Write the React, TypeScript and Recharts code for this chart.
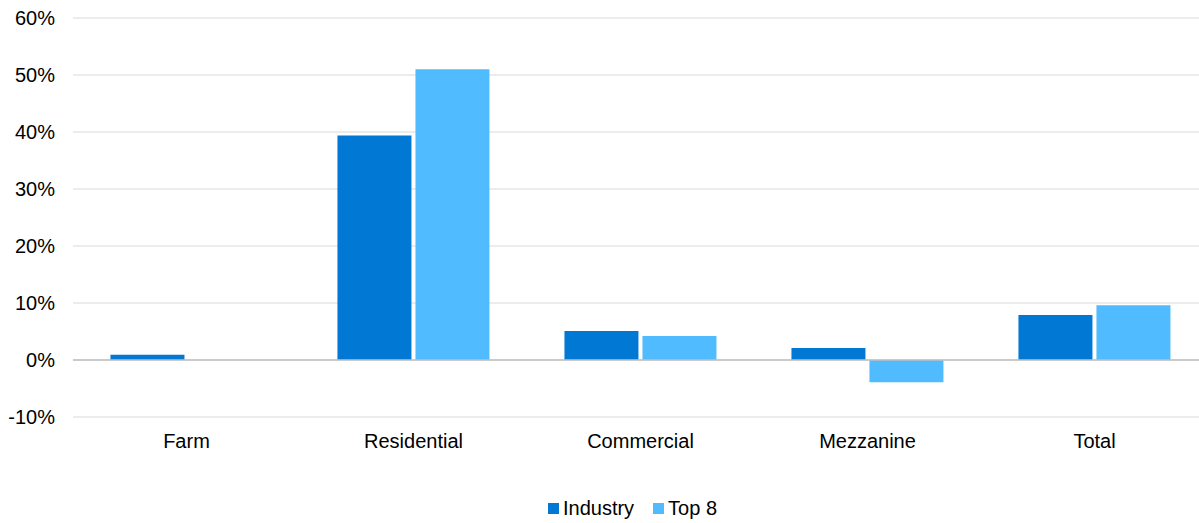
import {
  BarChart,
  Bar,
  XAxis,
  YAxis,
  CartesianGrid,
  Legend,
  ReferenceLine,
} from "recharts";

const CATEGORIES = ["Farm", "Residential", "Commercial", "Mezzanine", "Total"];
const INDUSTRY = [0.9, 39.4, 5.1, 2.1, 7.9];
const TOP8 = [0, 51.0, 4.2, -3.9, 9.6];
const Y_TICKS = [-10, 0, 10, 20, 30, 40, 50, 60];

const FONT = "'Liberation Sans', Arial, sans-serif";

const rows = CATEGORIES.map((name, i) => ({
  name,
  industry: INDUSTRY[i],
  top8: TOP8[i],
}));

function LegendBox({ payload }: any) {
  return (
    <div
      style={{
        display: "flex",
        justifyContent: "center",
        alignItems: "center",
        height: 30,
        gap: 19,
        fontFamily: FONT,
        fontSize: 20,
        color: "#000",
      }}
    >
      {(payload || []).map((p: any) => (
        <div key={p.value} style={{ display: "flex", alignItems: "center" }}>
          <span
            style={{
              display: "inline-block",
              width: 11,
              height: 11,
              background: p.color,
              marginRight: 4,
            }}
          />
          <span>{p.value}</span>
        </div>
      ))}
    </div>
  );
}

export default function App() {
  return (
    <div
      style={{
        position: "absolute",
        left: 0,
        top: 0,
        width: 1199,
        height: 523,
        overflow: "hidden",
        fontFamily: FONT,
      }}
    >
      <BarChart
        width={1199}
        height={523}
        data={rows}
        margin={{ top: 18, right: -9, left: 0, bottom: 0 }}
        barCategoryGap="16.5%"
        barGap={4}
      >
        <CartesianGrid vertical={false} stroke="#d9d9d9" />
        <XAxis
          dataKey="name"
          axisLine={false}
          tickLine={false}
          tickSize={0}
          tickMargin={17}
          height={76}
          interval={0}
          tick={{ fontSize: 20, fill: "#000", fontFamily: FONT }}
        />
        <YAxis
          domain={[-10, 60]}
          ticks={Y_TICKS}
          axisLine={false}
          tickLine={false}
          tickSize={0}
          tickMargin={18}
          width={73}
          tickFormatter={(v: number) => `${v}%`}
          tick={{ fontSize: 20, fill: "#000", fontFamily: FONT }}
        />
        <ReferenceLine y={0} stroke="#bfbfbf" strokeWidth={1.5} />
        <Legend
          verticalAlign="bottom"
          height={30}
          content={<LegendBox />}
          wrapperStyle={{ left: 0, width: 1199, paddingLeft: 66, boxSizing: "border-box" }}
        />
        <Bar
          dataKey="industry"
          name="Industry"
          fill="#0078d4"
          isAnimationActive={false}
        />
        <Bar
          dataKey="top8"
          name="Top 8"
          fill="#50bcff"
          isAnimationActive={false}
        />
      </BarChart>
    </div>
  );
}
